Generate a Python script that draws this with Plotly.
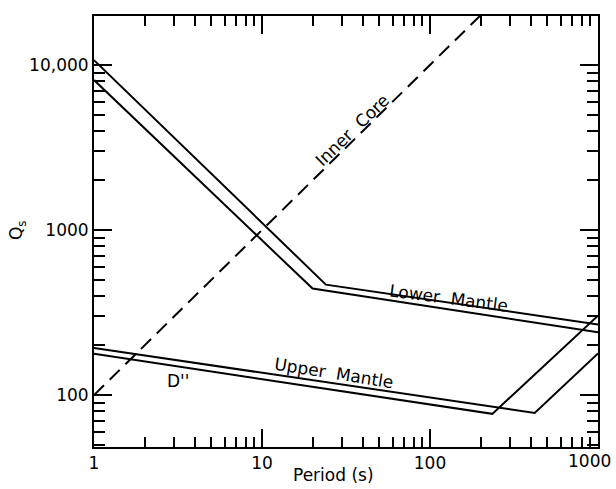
import numpy as np
import plotly.graph_objects as go

# ---- data ----
inner_core_T = [1, 200]
inner_core_Q = [100, 20000]

lower_mantle_a_T = [1, 24, 1000]
lower_mantle_a_Q = [10700, 467, 268]
lower_mantle_b_T = [1, 20, 1000]
lower_mantle_b_Q = [8100, 442, 240]

upper_mantle_T = [1, 420, 1000]
upper_mantle_Q = [193, 78, 179]
d2_T = [1, 235, 1000]
d2_Q = [178, 77, 303]

x_tick_vals = [1, 10, 100, 1000]
x_tick_text = ["1", "10", "100", "1000"]
y_tick_vals = [100, 1000, 10000]
y_tick_text = ["100", "1000", "10,000"]

FONT = "DejaVu Sans"
line_style = dict(color="black", width=2)

fig = go.Figure()
fig.add_trace(go.Scatter(x=inner_core_T, y=inner_core_Q, mode="lines",
                         line=dict(color="black", width=2, dash="14px,8px")))
for T, Q in [(lower_mantle_a_T, lower_mantle_a_Q), (lower_mantle_b_T, lower_mantle_b_Q),
             (upper_mantle_T, upper_mantle_Q), (d2_T, d2_Q)]:
    fig.add_trace(go.Scatter(x=T, y=Q, mode="lines", line=line_style))

minor_x = [m * 10 ** d for d in range(0, 3) for m in range(2, 10)]
minor_y = [m * 10 ** d for d in range(1, 5) for m in range(2, 10)
           if 48 < m * 10 ** d < 20000]

axis_common = dict(showline=True, linewidth=2, linecolor="black", mirror="ticks",
                   ticks="inside", ticklen=18, tickwidth=2, tickcolor="black",
                   showgrid=False, zeroline=False, automargin=False,
                   tickfont=dict(family=FONT, size=17, color="black"))

# last x tick label is drawn as an annotation so it can sit just inside the page edge
fig.update_xaxes(type="log", range=[0, 3], tickvals=x_tick_vals,
                 ticktext=x_tick_text[:-1] + [""],
                 minor=dict(tickmode="array", tickvals=minor_x, ticks="inside",
                            ticklen=10, tickwidth=1.5, tickcolor="black", showgrid=False),
                 **axis_common)
fig.update_yaxes(type="log", range=[np.log10(48.5), np.log10(19800)],
                 tickvals=y_tick_vals, ticktext=y_tick_text,
                 minor=dict(tickmode="array", tickvals=minor_y, ticks="inside",
                            ticklen=11, tickwidth=1.5, tickcolor="black", showgrid=False),
                 **axis_common)

ann_font = dict(family=FONT, size=17, color="black")
fig.add_annotation(xref="x", yref="paper", x=np.log10(x_tick_vals[-1]), y=0,
                   yanchor="top", yshift=-2, xshift=-9, xanchor="center",
                   text=x_tick_text[-1], showarrow=False, font=ann_font)

annotations = [
    dict(x=np.log10(34.5), y=np.log10(4040), text="Inner  Core", textangle=-44),
    dict(x=np.log10(128), y=np.log10(387), text="Lower  Mantle", textangle=7.5),
    dict(x=np.log10(26.8), y=np.log10(136), text="Upper  Mantle", textangle=9),
    dict(x=np.log10(3.16), y=np.log10(122), text="D''", textangle=0),
]
for a in annotations:
    fig.add_annotation(xref="x", yref="y", showarrow=False, font=ann_font, **a)

fig.add_annotation(xref="paper", yref="y", x=(17 - 94) / 504, y=3, xanchor="center",
                   yanchor="middle", text="Q<sub>s</sub>",
                   textangle=-90, showarrow=False, font=ann_font)
fig.add_annotation(xref="paper", yref="paper", x=(333 - 94) / 504, y=-(475 - 447) / 432,
                   xanchor="center", yanchor="middle", text="Period (s)",
                   showarrow=False, font=ann_font)

fig.update_layout(width=616, height=489, showlegend=False,
                  paper_bgcolor="white", plot_bgcolor="white",
                  margin=dict(l=94, r=18, t=16, b=42))

fig.write_html("out.html")
